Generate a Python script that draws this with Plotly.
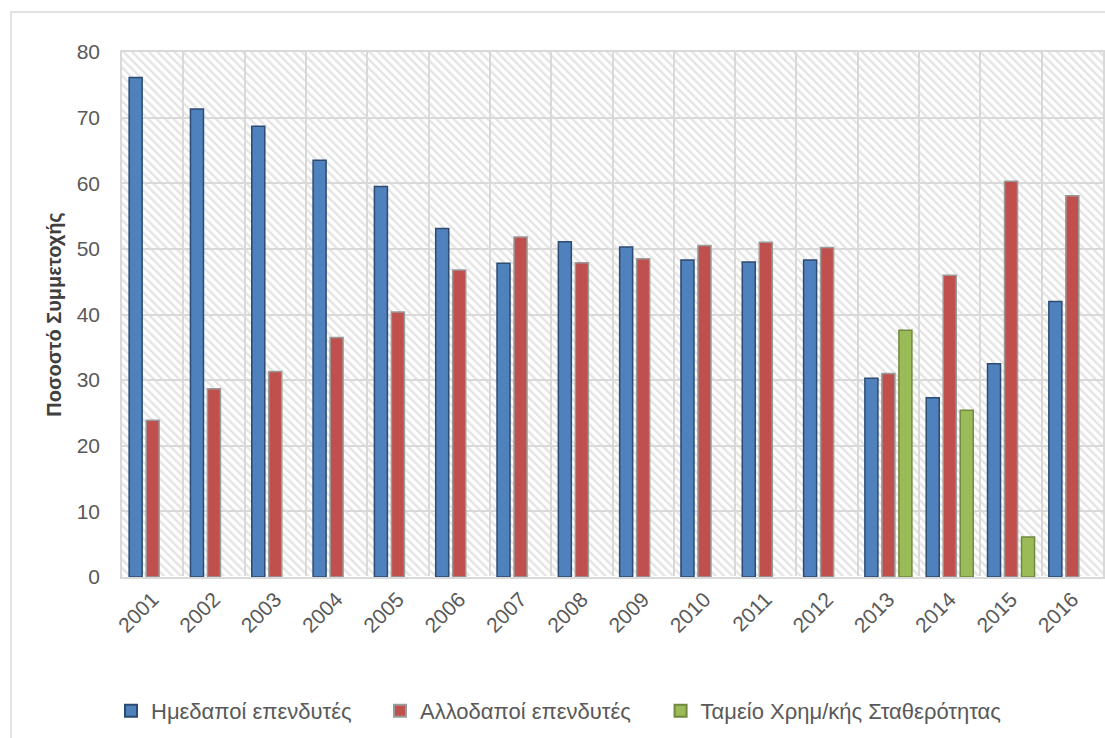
import base64
import plotly.graph_objects as go

# Participation shares (%) by investor type, 2001-2016
years = ["2001", "2002", "2003", "2004", "2005", "2006", "2007", "2008",
         "2009", "2010", "2011", "2012", "2013", "2014", "2015", "2016"]
domestic = [76.1, 71.3, 68.7, 63.5, 59.5, 53.1, 47.8, 51.1,
            50.3, 48.3, 48.0, 48.3, 30.3, 27.3, 32.5, 42.0]
foreign = [23.9, 28.7, 31.3, 36.5, 40.4, 46.8, 51.8, 47.9,
           48.5, 50.5, 51.0, 50.2, 31.0, 46.0, 60.3, 58.1]
hfsf = [None, None, None, None, None, None, None, None,
        None, None, None, None, 37.6, 25.4, 6.1, None]

series_names = ["Ημεδαποί επενδυτές", "Αλλοδαποί επενδυτές",
                "Ταμείο Χρημ/κής Σταθερότητας"]

FONT = "Liberation Sans"
TXT = "#595959"
GRID = "#d9d9d9"

fig = go.Figure()
styles = [
    (domestic, "#4f81bd", "#2c4a72", "legend"),
    (foreign, "#c0504d", "#9a9a9a", "legend2"),
    (hfsf, "#9bbb59", "#71893f", "legend3"),
]
for name, (vals, fill, edge, lg) in zip(series_names, styles):
    fig.add_trace(go.Bar(
        x=years, y=vals, name=name, legend=lg,
        marker=dict(color=fill, line=dict(color=edge, width=1.5)),
    ))

# diagonal hatch used as the plot-area background
svg = (
    "<svg xmlns='http://www.w3.org/2000/svg' width='981' height='525'>"
    "<defs><pattern id='h' width='6' height='6' patternUnits='userSpaceOnUse' "
    "patternTransform='rotate(-45)'>"
    "<rect width='6' height='6' fill='#ffffff'/>"
    "<rect width='2.4' height='6' fill='#e4e4e4'/></pattern></defs>"
    "<rect width='100%' height='100%' fill='url(#h)'/></svg>"
)
hatch = "data:image/svg+xml;base64," + base64.b64encode(svg.encode()).decode()

legend_common = dict(
    orientation="h", yanchor="middle", y=-0.255, xanchor="left",
    font=dict(family=FONT, size=22, color=TXT),
    bgcolor="rgba(0,0,0,0)", itemsizing="constant",
)

fig.update_layout(
    width=1105, height=738,
    margin=dict(l=122, r=2, t=52, b=161, autoexpand=False),
    paper_bgcolor="white", plot_bgcolor="white",
    barmode="group", bargap=0.168, bargroupgap=0.235,
    font=dict(family=FONT, color=TXT),
    showlegend=True,
    legend=dict(x=0, indentation=-11, **legend_common),
    legend2=dict(x=0.263, **legend_common),
    legend3=dict(x=0.549, **legend_common),
    images=[dict(source=hatch, xref="x domain", yref="y domain",
                 x=0, y=1, sizex=1, sizey=1, xanchor="left", yanchor="top",
                 sizing="stretch", layer="below")],
    shapes=[dict(type="rect", xref="paper", yref="paper",
                 x0=-0.1131, x1=1.05, y0=-0.5, y1=1.0762,
                 line=dict(color=GRID, width=1.5), fillcolor="rgba(0,0,0,0)",
                 layer="below")],
)

fig.update_xaxes(
    type="category", tickson="boundaries", ticks="",
    showgrid=True, gridcolor=GRID, gridwidth=1.5,
    showline=True, linecolor=GRID, linewidth=1.5, mirror=True,
    tickangle=-45, tickfont=dict(family=FONT, size=21, color=TXT),
    automargin=False,
)
fig.update_yaxes(
    range=[0, 80], dtick=10, ticks="",
    showgrid=True, gridcolor=GRID, gridwidth=1.5,
    showline=True, linecolor=GRID, linewidth=1.5, mirror=True,
    tickfont=dict(family=FONT, size=21, color=TXT), ticklabelstandoff=16,
    title=dict(text="<b>Ποσοστό Συμμετοχής</b>", standoff=10,
               font=dict(family=FONT, size=20, color="#404040")),
    automargin=False,
)

fig.write_html("out.html")
